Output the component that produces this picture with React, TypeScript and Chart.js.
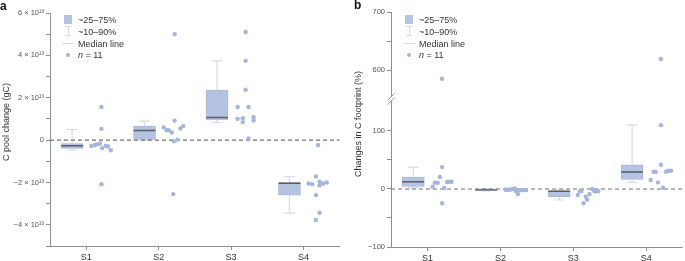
import React, { useEffect, useRef } from 'react';
import { Chart, registerables } from 'chart.js';

Chart.register(...registerables);

const FONT = '"Liberation Sans", Arial, Helvetica, sans-serif';

const categories = ['S1', 'S2', 'S3', 'S4'];

// ---------- Panel a: C pool change, values in units of 10^13 gC ----------
const aP10 = [-0.48, 0.0, 0.83, -3.45];
const aQ1 = [-0.39, 0.02, 0.94, -2.6];
const aMedian = [-0.27, 0.455, 1.07, -2.04];
const aQ3 = [-0.15, 0.66, 2.36, -1.99];
const aP90 = [0.5, 0.9, 3.74, -1.72];
const aPointsS1 = [1.56, 0.53, -2.08, -0.28, -0.23, -0.2, -0.16, -0.38, -0.27, -0.3, -0.48];
const aPointsS2 = [0.6, 0.47, 0.47, 0.36, 0.92, 5.0, -2.55, -0.06, 0.02, 0.55, 0.66];
const aPointsS3 = [5.1, 3.74, 2.38, 1.56, 1.56, 1.0, 1.03, 0.85, 1.08, 0.92, 0.08];
const aPointsS4 = [-0.23, -1.72, -2.05, -2.08, -1.97, -2.14, -2.05, -2.0, -2.6, -3.43, -3.77];
const aJitterS1 = [0.21, 0.21, 0.21, 0.07, 0.12, 0.15, 0.19, 0.22, 0.27, 0.3, 0.34];
const aJitterS2 = [0.07, 0.11, 0.14, 0.18, 0.22, 0.22, 0.2, 0.21, 0.26, 0.3, 0.34];
const aJitterS3 = [0.2, 0.2, 0.2, 0.09, 0.24, 0.09, 0.16, 0.16, 0.31, 0.31, 0.24];
const aJitterS4 = [0.2, 0.17, 0.07, 0.12, 0.22, 0.22, 0.27, 0.32, 0.17, 0.22, 0.17];
const aTickValues = [-5, -4, -3, -2, -1, 0, 1, 2, 3, 4, 5, 6];
const aLabelledTicks = [-4, -2, 0, 2, 4, 6];
const aMin = -5;
const aMax = 6;

// ---------- Panel b: changes in C footprint (%) ----------
const bP10 = [2, -3.5, -19, 11.3];
const bQ1 = [4, -2.5, -13.2, 16];
const bMedian = [12.5, -1.5, -4, 29.2];
const bQ3 = [20.6, -0.5, -3, 41.7];
const bP90 = [37.7, 0.5, -2, 110];
const bPointsS1 = [585, 37.7, 20.6, 4, 10.8, 10.8, 1.7, 12, 12.5, 12.5, -24.7];
const bPointsS2 = [-1.4, -1.4, -1.4, -0.3, 1, -3.5, -4.5, -8.6, -2, -2, -2];
const bPointsS3 = [-10.3, -4, -3.5, -24.7, -13.2, -18.4, -8.6, 0, -4, -4, -4];
const bPointsS4 = [619, 110, 41.7, 15.4, 29.7, 29.7, 11.3, 2.2, 29.7, 31.4, 31.4];
const bJitterS1 = [0.2, 0.2, 0.17, 0.07, 0.1, 0.14, 0.23, 0.27, 0.3, 0.33, 0.2];
const bJitterS2 = [0.07, 0.1, 0.13, 0.16, 0.2, 0.21, 0.23, 0.24, 0.28, 0.31, 0.35];
const bJitterS3 = [0.06, 0.09, 0.11, 0.14, 0.17, 0.19, 0.22, 0.26, 0.29, 0.31, 0.34];
const bJitterS4 = [0.2, 0.2, 0.2, 0.06, 0.1, 0.13, 0.16, 0.23, 0.27, 0.3, 0.34];
const bTickValues = [-100, -50, 0, 50, 100, 600, 650, 700];
const bLabelledTicks = [-100, 0, 100, 600, 700];
const bMin = -100;
const bMax = 700;
const bBreakLow = 155; // axis is cut between these two values
const bBreakHigh = 550;

const legendLabels = ['~25–75%', '~10–90%', 'Median line'];

const BOX_FILL = '#b5c3e2';
const BOX_EDGE = '#a7b6db';
const POINT_COLOR = '#a5b5dc';
const WHISKER_COLOR = '#d3dbee';
const MEDIAN_COLOR = '#5c5c5c';
const ZERO_COLOR = '#707070';
const AXIS_COLOR = '#8e8e8e';
const TEXT_COLOR = '#333333';
const TICK_TEXT = '#555555';

const BOX_DX = -0.195;
const CAP_HALF = 0.075;

const SUP: Record<string, string> = { '0': '⁰', '1': '¹', '2': '²', '3': '³', '4': '⁴', '5': '⁵', '6': '⁶', '7': '⁷', '8': '⁸', '9': '⁹' };
const sup = (s: string) => s.split('').map((c) => SUP[c] || c).join('');

type Ident = (v: number) => number;

function buildDatasets(
  p10: number[], q1: number[], med: number[], q3: number[], p90: number[],
  pts: number[][], jit: number[][], f: Ident
) {
  const points: { x: number; y: number }[] = [];
  pts.forEach((arr, i) => arr.forEach((v, j) => points.push({ x: i + 1 + jit[i][j], y: f(v) })));
  const whisk: { x: number; y: number | null }[] = [];
  const medians: { x: number; y: number | null }[] = [];
  categories.forEach((_, i) => {
    const xc = i + 1 + BOX_DX;
    whisk.push({ x: xc, y: f(p10[i]) }, { x: xc, y: f(p90[i]) }, { x: xc, y: null });
    whisk.push({ x: xc - CAP_HALF, y: f(p90[i]) }, { x: xc + CAP_HALF, y: f(p90[i]) }, { x: xc, y: null });
    whisk.push({ x: xc - CAP_HALF, y: f(p10[i]) }, { x: xc + CAP_HALF, y: f(p10[i]) }, { x: xc, y: null });
    medians.push({ x: xc - 0.15, y: f(med[i]) }, { x: xc + 0.15, y: f(med[i]) }, { x: xc, y: null });
  });
  return [
    {
      type: 'scatter', data: points, pointRadius: 2.2, pointHoverRadius: 2.2,
      backgroundColor: POINT_COLOR, borderWidth: 0, order: 0,
    },
    {
      type: 'line', data: [{ x: 0.5, y: 0 }, { x: 4.5, y: 0 }], borderColor: ZERO_COLOR,
      borderDash: [4, 3], borderWidth: 1.2, pointRadius: 0, order: 1,
    },
    {
      type: 'line', data: medians, borderColor: MEDIAN_COLOR, borderWidth: 1.4,
      pointRadius: 0, spanGaps: false, order: 2,
    },
    {
      type: 'bar',
      data: categories.map((_, i) => ({ x: i + 1 + BOX_DX, y: [f(q1[i]), f(q3[i])] })),
      backgroundColor: BOX_FILL, borderColor: BOX_EDGE, borderWidth: 1,
      barThickness: 22, grouped: false, order: 3,
    },
    {
      type: 'line', data: whisk, borderColor: WHISKER_COLOR, borderWidth: 1.2,
      pointRadius: 0, spanGaps: false, order: 4,
    },
  ];
}

function axisCommon() {
  return {
    offset: false,
    grid: { offset: false, drawOnChartArea: false, drawTicks: true, tickLength: 4, color: AXIS_COLOR, lineWidth: 1 },
    border: { color: AXIS_COLOR, width: 1 },
  };
}

function xScale(height: number) {
  return {
    type: 'linear',
    min: 0.5,
    max: 4.5,
    afterBuildTicks: (s: any) => { s.ticks = categories.map((_, i) => ({ value: i + 1 })); },
    afterFit: (s: any) => { s.height = height; },
    ticks: {
      callback: (v: number) => categories[Math.round(v) - 1] ?? '',
      font: { family: FONT, size: 9 }, color: TEXT_COLOR, padding: 2, maxRotation: 0, autoSkip: false,
    },
    ...axisCommon(),
  };
}

const breakPlugin = {
  id: 'axisBreak',
  afterDraw(chart: any) {
    const o = chart.options.plugins.axisBreak;
    if (!o || !o.enabled) return;
    const y = chart.scales.y.getPixelForValue(o.at);
    const x = chart.chartArea.left;
    const ctx = chart.ctx;
    ctx.save();
    ctx.fillStyle = '#ffffff';
    ctx.fillRect(x - 2, y - 2, 4, 4);
    ctx.strokeStyle = AXIS_COLOR;
    ctx.lineWidth = 1;
    [-2.2, 2.2].forEach((d) => {
      ctx.beginPath();
      ctx.moveTo(x - 3.5, y + d + 3.5);
      ctx.lineTo(x + 3.5, y + d - 3.5);
      ctx.stroke();
    });
    ctx.restore();
  },
};

function useChart(ref: React.RefObject<HTMLCanvasElement>, build: () => any) {
  useEffect(() => {
    if (!ref.current) return;
    const chart = new Chart(ref.current, build());
    return () => chart.destroy();
  }, []);
}

function Legend({ left, top }: { left: number; top: number }) {
  const row: React.CSSProperties = { position: 'absolute', left: 16, fontSize: 9, lineHeight: '10px', whiteSpace: 'nowrap', color: TEXT_COLOR };
  return (
    <div style={{ position: 'absolute', left, top, width: 90, height: 48, fontFamily: FONT }}>
      <div style={{ position: 'absolute', left: 2, top: 1, width: 8, height: 9, background: BOX_FILL }} />
      <div style={{ ...row, top: 1 }}>{legendLabels[0]}</div>
      <div style={{ position: 'absolute', left: 3, top: 12, width: 6, height: 10, borderTop: `1px solid ${WHISKER_COLOR}`, borderBottom: `1px solid ${WHISKER_COLOR}`, boxSizing: 'border-box' }} />
      <div style={{ position: 'absolute', left: 5.5, top: 12, width: 1, height: 10, background: WHISKER_COLOR }} />
      <div style={{ ...row, top: 13 }}>{legendLabels[1]}</div>
      <div style={{ position: 'absolute', left: 0, top: 29, width: 12, height: 1, background: WHISKER_COLOR }} />
      <div style={{ ...row, top: 24.5 }}>{legendLabels[2]}</div>
      <div style={{ position: 'absolute', left: 4, top: 38.5, width: 4, height: 4, borderRadius: 2, background: POINT_COLOR }} />
      <div style={{ ...row, top: 35.5 }}><i>n</i> = 11</div>
    </div>
  );
}

export default function App() {
  const refA = useRef<HTMLCanvasElement>(null);
  const refB = useRef<HTMLCanvasElement>(null);

  useChart(refA, () => ({
    type: 'scatter',
    data: {
      datasets: buildDatasets(aP10, aQ1, aMedian, aQ3, aP90,
        [aPointsS1, aPointsS2, aPointsS3, aPointsS4],
        [aJitterS1, aJitterS2, aJitterS3, aJitterS4], (v) => v),
    },
    options: {
      responsive: false, animation: false, events: [],
      layout: { padding: { top: 13, left: 0, right: 0, bottom: 0 } },
      plugins: { legend: { display: false }, tooltip: { enabled: false } },
      scales: {
        x: xScale(15),
        y: {
          type: 'linear', min: aMin, max: aMax,
          afterBuildTicks: (s: any) => { s.ticks = aTickValues.map((v) => ({ value: v })); },
          afterFit: (s: any) => { s.width = 50; },
          ticks: {
            callback: (v: number) => {
              if (!aLabelledTicks.includes(v)) return '';
              if (v === 0) return '0';
              return `${v < 0 ? '−' : ''}${Math.abs(v)} × 10${sup('13')}`;
            },
            font: { family: FONT, size: 7.5 }, color: TICK_TEXT, padding: 2,
          },
          ...axisCommon(),
        },
      },
    },
  }));

  const fb = (v: number) => (v > bBreakLow ? v - (bBreakHigh - bBreakLow) : v);

  useChart(refB, () => ({
    type: 'scatter',
    data: {
      datasets: buildDatasets(bP10, bQ1, bMedian, bQ3, bP90,
        [bPointsS1, bPointsS2, bPointsS3, bPointsS4],
        [bJitterS1, bJitterS2, bJitterS3, bJitterS4], fb),
    },
    plugins: [breakPlugin],
    options: {
      responsive: false, animation: false, events: [],
      layout: { padding: { top: 12, left: 0, right: 0, bottom: 0 } },
      plugins: { legend: { display: false }, tooltip: { enabled: false }, axisBreak: { enabled: true, at: bBreakLow } },
      scales: {
        x: xScale(14),
        y: {
          type: 'linear', min: fb(bMin), max: fb(bMax),
          afterBuildTicks: (s: any) => { s.ticks = bTickValues.map((v) => ({ value: fb(v) })); },
          afterFit: (s: any) => { s.width = 49; },
          ticks: {
            callback: (_v: number, i: number) => {
              const real = bTickValues[i];
              if (!bLabelledTicks.includes(real)) return '';
              return real < 0 ? `−${Math.abs(real)}` : `${real}`;
            },
            font: { family: FONT, size: 7.5 }, color: TICK_TEXT, padding: 2,
          },
          ...axisCommon(),
        },
      },
    },
  }));

  const title: React.CSSProperties = {
    position: 'absolute', transform: 'translate(-50%, -50%) rotate(-90deg)', whiteSpace: 'nowrap',
    fontFamily: FONT, fontSize: 9, color: TEXT_COLOR, lineHeight: '11px',
  };
  const panelLabel: React.CSSProperties = {
    position: 'absolute', fontFamily: FONT, fontWeight: 'bold', fontSize: 12, lineHeight: '12px', color: '#111',
  };

  return (
    <div style={{ position: 'absolute', left: 0, top: 0, width: 685, height: 261, background: '#fff', overflow: 'hidden' }}>
      <canvas ref={refA} width={342} height={261} style={{ position: 'absolute', left: 0, top: 0 }} />
      <canvas ref={refB} width={343} height={261} style={{ position: 'absolute', left: 342, top: 0 }} />
      <div style={{ ...title, left: 6, top: 122 }}>C pool change (gC)</div>
      <div style={{ ...title, left: 358, top: 123.5 }}>Changes in C footprint (%)</div>
      <div style={{ ...panelLabel, left: 0, top: 0 }}>a</div>
      <div style={{ ...panelLabel, left: 354, top: -1 }}>b</div>
      <Legend left={62} top={14} />
      <Legend left={403} top={14} />
    </div>
  );
}
